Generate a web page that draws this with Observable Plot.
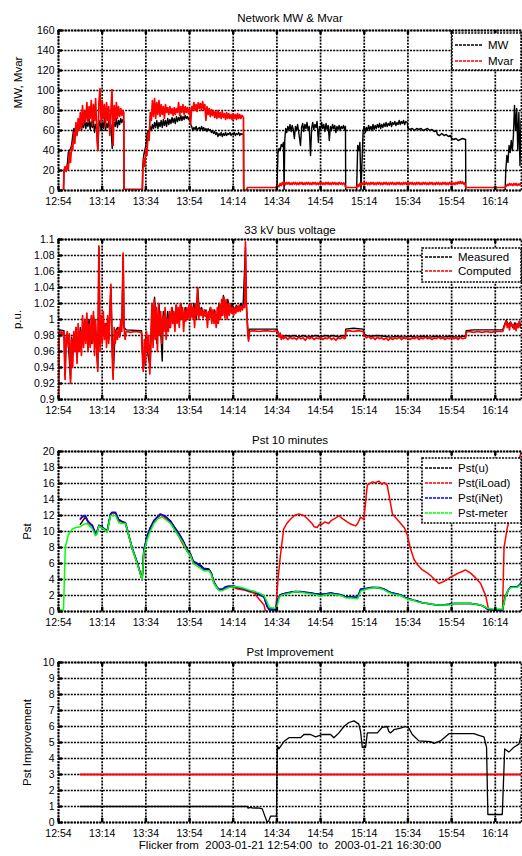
<!DOCTYPE html>
<html><head><meta charset="utf-8">
<script src="https://cdn.jsdelivr.net/npm/d3@7"></script>
<script src="https://cdn.jsdelivr.net/npm/@observablehq/plot@0.6"></script>
<style>
body{margin:0;background:#fff;}
#chart{width:522px;}
#chart svg{display:block;}
</style></head><body><div id="chart"></div>
<script>
// time in minutes after 12:54
const timeTicks = [0,20,40,60,80,100,120,140,160,180,200];
const timeLabels = ["12:54","13:14","13:34","13:54","14:14","14:34","14:54","15:14","15:34","15:54","16:14"];

const titles = ["Network MW & Mvar","33 kV bus voltage","Pst 10 minutes","Pst Improvement"];
const yLabels = ["MW, Mvar","p.u.","Pst","Pst Improvement"];
const caption = "Flicker from  2003-01-21 12:54:00  to  2003-01-21 16:30:00";

const mwTicks = [0,20,40,60,80,100,120,140,160];
const voltTicks = [0.9,0.92,0.94,0.96,0.98,1,1.02,1.04,1.06,1.08,1.1];
const pstTicks = [0,2,4,6,8,10,12,14,16,18,20];
const impTicks = [0,1,2,3,4,5,6,7,8,9,10];

const legend1 = ["MW","Mvar"];
const legend2 = ["Measured","Computed"];
const legend3 = ["Pst(u)","Pst(iLoad)","Pst(iNet)","Pst-meter"];

const mw = [[0,0],[2.3,0],[2.5,20],[3,22],[3.5,21],[4,25],[4.5,38],[5,40],[5.5,42],[6,45],[6.5,55],[7,62],[7.5,58],[8,66],[8.5,61],[9,68],[9.5,62],[10,70],[10.5,60],[11,67],[11.5,63],[12,71],[12.5,62],[13,68],[13.5,64],[14,72],[14.5,61],[15,69],[15.5,63],[16,70],[16.5,58],[17,66],[17.5,62],[18,40],[18.5,64],[19,70],[19.5,60],[20,68],[20.5,62],[21,72],[21.5,60],[22,67],[22.5,63],[23,70],[23.5,58],[24,66],[24.6,42],[25,62],[25.5,68],[26,64],[26.5,72],[27,63],[27.5,70],[28,66],[28.5,72],[29,68],[29.5,71],[29.9,69],[30,1],[38.4,1],[38.6,25],[39,35],[39.5,40],[40,45],[40.5,55],[41,60],[41.5,57],[42,64],[42.5,60],[43,66],[43.5,62],[44,68],[44.5,63],[45,70],[45.5,62],[46,68],[46.5,64],[47,70],[47.5,63],[48,71],[48.5,65],[49,70],[49.5,64],[50,72],[50.5,66],[51,71],[51.5,67],[52,73],[52.5,68],[53,72],[53.5,67],[54,74],[54.5,69],[55,73],[55.5,70],[56,75],[56.5,70],[57,74],[57.5,71],[58,75],[58.5,72],[59,74],[59.5,71],[60,73],[60.5,66],[61,64],[61.5,60],[62,63],[62.5,61],[63,64],[63.5,60],[64,62],[64.5,63],[65,60],[65.5,64],[66,61],[66.5,63],[67,60],[67.5,62],[68,59],[68.5,62],[69,60],[69.5,61],[70,58],[70.5,60],[71,57],[71.5,59],[72,56],[72.5,58],[73,54],[73.5,57],[74,55],[74.5,58],[75,54],[75.5,57],[76,55],[76.5,58],[77,55],[77.5,57],[78,56],[78.5,58],[79,55],[79.5,57],[80,56],[80.5,58],[81,55],[81.5,57],[82,56],[82.5,58],[83,55],[83.5,57],[84,56],[84.7,57],[84.8,0],[100,0],[100.2,15],[100.5,38],[101,42],[101.5,40],[102,46],[102.5,44],[103,48],[103.3,0],[103.6,50],[104,62],[104.5,58],[105,64],[105.5,60],[106,66],[106.5,59],[107,65],[107.5,61],[108,52],[108.5,64],[109,60],[109.5,66],[110,58],[110.8,45],[111.3,63],[111.8,67],[112.3,59],[112.8,66],[113.3,62],[113.8,68],[114.3,60],[114.8,64],[115.4,35],[115.9,62],[116.4,68],[116.9,61],[117.4,66],[117.9,63],[118.4,69],[119,48],[119.5,64],[120,60],[120.5,68],[121,62],[121.5,66],[122,59],[122.5,67],[123,61],[123.5,65],[124,50],[124.5,64],[125,60],[125.5,66],[126,62],[126.5,65],[127,58],[127.5,64],[128,61],[128.5,65],[129,60],[129.5,64],[130,62],[130.5,65],[131,61],[131.4,64],[131.5,0],[136.5,0],[136.7,18],[137,45],[137.5,40],[138,48],[138.5,0],[139,30],[139.5,60],[140,64],[140.5,58],[141,63],[141.5,60],[142,65],[142.5,61],[143,64],[143.5,60],[144,66],[144.5,61],[145,65],[145.5,62],[146,66],[146.5,63],[147,67],[147.5,62],[148,66],[148.5,63],[149,67],[149.5,64],[150,68],[150.5,64],[151,67],[151.5,65],[152,69],[152.5,64],[153,68],[153.5,66],[154,69],[154.5,65],[155,68],[155.5,66],[156,70],[156.5,66],[157,69],[157.5,67],[158,70],[158.5,66],[159,69],[159.7,68],[160,62],[161,61],[162,62],[163,60],[164,62],[165,61],[166,62],[167,60],[168,61],[169,62],[170,60],[171,61],[172,59],[173,60],[173.5,56],[174.5,55],[175.5,57],[176.5,55],[177.5,56],[178.5,54],[179.5,55],[180,52],[181,51],[182,52],[183,50],[184,51],[185,52],[186.4,51],[186.5,0],[204.5,0],[204.8,20],[205.3,35],[205.8,28],[206.3,45],[206.8,38],[207.3,50],[207.8,40],[208.3,55],[208.8,85],[209.3,60],[209.8,82],[210.3,40],[210.8,78],[211.3,25],[211.8,70],[212.3,60],[212.5,72]];

const mvar = [[0,0],[2.3,0],[2.5,20],[3,24],[3.5,19],[4,26],[4.5,21],[5,38],[5.5,28],[6,45],[6.5,40],[7,58],[7.5,47],[8,68],[8.5,55],[9,72],[9.5,60],[10,78],[10.5,62],[11,85],[11.5,66],[12,80],[12.5,70],[13,88],[13.5,68],[14,84],[14.5,72],[15,90],[15.5,65],[16,86],[16.5,70],[17,92],[17.5,60],[18,40],[18.5,88],[19,102],[19.5,68],[20,90],[20.5,72],[21,86],[21.5,64],[22,88],[22.5,70],[23,84],[23.5,55],[24,80],[24.5,101],[25,45],[25.5,85],[26,70],[26.5,88],[27,72],[27.5,84],[28,74],[28.5,82],[29,75],[29.5,80],[29.9,78],[30,1],[38.4,1],[38.6,20],[39,32],[39.5,24],[40,42],[40.5,35],[41,58],[41.5,50],[42,78],[42.5,70],[43,90],[43.5,74],[44,92],[44.5,72],[45,88],[45.5,76],[46,90],[46.5,74],[47,86],[47.5,76],[48,84],[48.5,72],[49,86],[49.5,78],[50,83],[50.5,76],[51,84],[51.5,77],[52,82],[52.5,75],[53,83],[53.5,76],[54,82],[54.5,78],[55,88],[55.5,75],[56,84],[56.5,78],[57,86],[57.5,76],[58,84],[58.5,78],[59,83],[59.5,77],[60,82],[60.5,66],[61,84],[61.5,80],[62,88],[62.5,80],[63,86],[63.5,79],[64,88],[64.5,82],[65,87],[65.5,80],[66,89],[66.5,81],[67,86],[67.5,70],[68,84],[68.5,76],[69,82],[69.5,74],[70,81],[70.5,75],[71,80],[71.5,73],[72,79],[72.5,72],[73,80],[73.5,73],[74,78],[74.5,72],[75,79],[75.5,73],[76,77],[76.5,71],[77,78],[77.5,72],[78,77],[78.5,72],[79,76],[79.5,71],[80,77],[80.5,72],[81,76],[81.5,71],[82,77],[82.5,72],[83,76],[83.5,72],[84,75],[84.7,73],[84.8,0],[86,0],[86.5,3],[100,3],[100.5,5],[101,4],[101.5,7],[102,5],[102.5,8],[103,6],[103.5,8],[104,6],[104.5,8],[105,6.5],[105.5,8],[106,6],[106.5,7.5],[107,6],[107.5,8],[108,6.5],[108.5,8],[109,6],[109.5,7.5],[110,6],[110.5,8],[111,6.5],[111.5,8],[112,6],[112.5,7.5],[113,6],[113.5,8],[114,6.5],[114.5,8],[115,6],[115.5,7.5],[116,6],[116.5,8],[117,6.5],[117.5,8],[118,6],[118.5,7.5],[119,6],[119.5,8],[120,6.5],[120.5,8],[121,6],[121.5,7.5],[122,6],[122.5,8],[123,6.5],[123.5,8],[124,6],[124.5,7.5],[125,6],[125.5,8],[126,6.5],[126.5,8],[127,6],[127.5,7.5],[128,6],[128.5,8],[129,6.5],[129.5,7.5],[130,6],[130.5,7.5],[131,6.5],[131.5,3],[136.5,3],[137,6],[137.5,4],[138,7],[138.5,5.5],[139,7.5],[139.5,6],[140,8],[140.5,6.5],[141,8],[141.5,6],[142,7.5],[142.5,6],[143,8],[143.5,6.5],[144,8],[144.5,6],[145,7.5],[145.5,6],[146,8],[146.5,6.5],[147,8],[147.5,6],[148,7.5],[148.5,6],[149,8],[149.5,6.5],[150,8],[150.5,6],[151,7.5],[151.5,6],[152,8],[152.5,6.5],[153,8],[153.5,6],[154,7.5],[154.5,6],[155,8],[155.5,6.5],[156,8],[156.5,6],[157,7.5],[157.5,6],[158,8],[158.5,6.5],[159,8],[159.5,6],[160,7.5],[160.5,6],[161,8],[161.5,6.5],[162,8],[162.5,6],[163,7.5],[163.5,6],[164,8],[164.5,6.5],[165,8],[165.5,6],[166,7.5],[166.5,6],[167,8],[167.5,6.5],[168,8],[168.5,6],[169,7.5],[169.5,6],[170,8],[170.5,6.5],[171,8],[171.5,6],[172,7.5],[172.5,6],[173,8],[173.5,6.5],[174,8],[174.5,6],[175,7.5],[175.5,6],[176,8],[176.5,6.5],[177,8],[177.5,6],[178,7.5],[178.5,6],[179,8],[179.5,6.5],[180,8],[180.5,6],[181,7.5],[181.5,6],[182,8],[182.5,6.5],[183,8.5],[183.5,7],[184,9],[184.5,7],[185,8.5],[185.5,6.5],[186,7.5],[186.5,3],[195,3],[204.5,3],[205,4.5],[205.5,6],[206,5],[206.5,7],[207,5.5],[207.5,6.5],[208,5],[208.5,7],[209,5.5],[209.5,7],[210,5],[210.5,6.5],[211,5.5],[211.5,7],[212,5.5],[212.5,6.5]];

const voltMeasured = [[0,0.9],[0.3,0.978],[0.6,0.987],[2.5,0.986],[3,0.93],[3.5,0.978],[4.5,0.97],[5.5,0.925],[6,0.978],[7,0.965],[8,0.99],[9,0.96],[10,0.99],[11,0.97],[12,1.0],[13,0.975],[14,1.0],[15,0.97],[16,1.005],[17,0.975],[18,0.94],[18.5,1.09],[19,0.97],[20,1.0],[21,0.98],[22,0.995],[23,0.975],[24,1.04],[25,0.93],[26,0.985],[27,0.99],[28,0.98],[29,0.995],[29.6,1.08],[30,0.99],[31,0.987],[38,0.986],[38.5,0.96],[39,0.94],[40,0.98],[41,0.955],[42,0.94],[42.8,1.02],[43.5,0.975],[44,1.028],[45,0.97],[46,1.02],[47,0.975],[47.5,0.948],[48,1.01],[49,0.985],[50,1.01],[51,0.99],[52,1.015],[53,0.995],[54,1.018],[55,0.998],[56,1.02],[57,1.0],[58,1.015],[59,1.005],[60,1.018],[61,1.005],[62,1.02],[63,1.0],[63.7,1.04],[64.5,1.01],[65.5,1.015],[66.5,1.005],[67.5,1.012],[68.5,1.0],[69.5,1.015],[70.5,1.0],[71.5,1.012],[72.5,0.995],[73.5,1.02],[74.5,1.005],[75.5,1.03],[76.5,1.008],[77.5,1.025],[78.5,1.01],[79.5,1.02],[80.5,1.01],[81.5,1.018],[82.5,1.012],[83.5,1.02],[84.5,1.015],[85.6,1.09],[86,1.02],[87,0.975],[87.5,0.988],[100,0.988],[101,0.98],[102,0.978],[103,0.979],[104,0.98],[106,0.979],[108,0.98],[110,0.978],[112,0.98],[114,0.978],[116,0.979],[118,0.98],[120,0.978],[122,0.98],[124,0.979],[126,0.98],[128,0.978],[130,0.98],[131.4,0.979],[131.5,0.988],[135,0.989],[139.5,0.988],[140,0.982],[141,0.98],[143,0.979],[146,0.98],[149,0.979],[152,0.978],[155,0.979],[158,0.978],[161,0.979],[164,0.978],[167,0.979],[170,0.978],[173,0.979],[176,0.978],[179,0.979],[182,0.978],[185,0.979],[186.5,0.979],[186.7,0.986],[190,0.987],[195,0.987],[200,0.987],[203.4,0.987],[204,0.992],[205,0.999],[206,0.993],[207,0.997],[208,0.99],[209,0.996],[210,0.99],[211,0.997],[212,0.99],[212.5,0.996]];

const voltComputed = [[0,0.9],[0.3,0.975],[0.6,0.985],[1,0.982],[1.5,0.985],[2,0.98],[2.5,0.984],[3,0.925],[3.5,0.975],[4,0.985],[4.5,0.965],[5,0.982],[5.5,0.92],[6,0.975],[6.5,0.94],[7,0.985],[7.5,0.96],[8,0.99],[8.5,0.945],[9,0.995],[9.5,0.96],[10,0.985],[10.5,0.955],[11,1.005],[11.5,0.965],[12,1.0],[12.5,0.97],[13,1.008],[13.5,0.96],[14,0.995],[14.5,0.965],[15,1.005],[15.5,0.97],[16,1.01],[16.5,0.955],[17,1.0],[17.5,0.965],[18,0.935],[18.5,1.092],[19,0.96],[19.5,1.005],[20,0.97],[20.5,1.01],[21,0.975],[21.5,0.995],[22,0.965],[22.5,1.005],[23,0.97],[23.5,1.012],[24,1.044],[24.5,0.96],[25,0.925],[25.5,0.99],[26,0.97],[26.5,0.985],[27,0.975],[27.5,0.99],[28,0.978],[28.5,1.0],[29,0.985],[29.6,1.083],[30,0.99],[30.5,0.975],[31,0.985],[33,0.984],[35,0.985],[38,0.984],[38.3,0.96],[38.8,0.935],[39.3,0.975],[39.8,0.945],[40.3,0.985],[40.8,0.96],[41.3,0.98],[41.8,0.932],[42.3,0.975],[42.8,1.02],[43.3,0.965],[43.8,1.025],[44.3,0.975],[44.8,1.015],[45.3,0.96],[45.8,1.02],[46.3,0.98],[46.8,1.01],[47.3,0.97],[47.8,1.005],[48.3,0.985],[48.8,1.015],[49.3,0.975],[49.8,1.0],[50.3,0.985],[50.8,1.01],[51.3,0.99],[51.8,1.015],[52.3,0.995],[52.8,1.01],[53.3,0.985],[53.8,1.018],[54.3,0.995],[54.8,1.015],[55.3,0.99],[55.8,1.02],[56.3,1.0],[56.8,1.015],[57.3,0.985],[57.8,1.012],[58.3,0.998],[58.8,1.015],[59.3,1.0],[59.8,1.018],[60.3,1.0],[60.8,1.02],[61.3,1.002],[61.8,1.015],[62.3,0.99],[62.8,1.02],[63.3,1.005],[63.7,1.04],[64.2,1.0],[64.7,1.015],[65.2,1.005],[65.7,1.012],[66.2,1.002],[66.7,1.012],[67.2,1.004],[67.7,1.01],[68.2,0.99],[68.7,1.01],[69.2,1.002],[69.7,1.015],[70.2,0.995],[70.7,1.012],[71.2,0.995],[71.7,1.01],[72.2,0.99],[72.7,1.015],[73.2,0.995],[73.7,1.02],[74.2,1.0],[74.7,1.025],[75.2,1.005],[75.7,1.028],[76.2,1.002],[76.7,1.025],[77.2,1.0],[77.7,1.02],[78.2,1.005],[78.7,1.02],[79.2,1.008],[79.7,1.015],[80.2,1.005],[80.7,1.015],[81.2,1.008],[81.7,1.016],[82.2,1.01],[82.7,1.018],[83.2,1.01],[83.7,1.016],[84.2,1.012],[84.7,1.018],[85.2,1.015],[85.6,1.097],[86,1.02],[86.5,0.99],[87,0.973],[87.5,0.985],[89,0.986],[92,0.985],[95,0.986],[98,0.985],[100,0.986],[100.5,0.984],[101,0.978],[101.5,0.983],[102,0.975],[102.5,0.98],[103,0.976],[104,0.978],[105,0.975],[106,0.978],[107,0.976],[108,0.977],[109,0.975],[110,0.978],[111,0.976],[112,0.977],[113,0.974],[114,0.978],[115,0.976],[116,0.978],[117,0.975],[118,0.977],[119,0.976],[120,0.978],[121,0.975],[122,0.977],[123,0.976],[124,0.978],[125,0.975],[126,0.977],[127,0.974],[128,0.977],[129,0.976],[130,0.978],[131,0.976],[131.4,0.977],[131.5,0.985],[133,0.986],[135,0.985],[137,0.986],[139.5,0.985],[140,0.98],[141,0.977],[142,0.979],[143,0.976],[144,0.978],[145,0.975],[146,0.978],[147,0.976],[148,0.977],[149,0.975],[150,0.977],[151,0.974],[152,0.977],[153,0.975],[154,0.977],[155,0.976],[156,0.978],[157,0.975],[158,0.977],[159,0.976],[160,0.977],[161,0.975],[162,0.977],[163,0.976],[164,0.978],[165,0.975],[166,0.977],[167,0.976],[168,0.978],[169,0.976],[170,0.977],[171,0.975],[172,0.977],[173,0.976],[174,0.978],[175,0.976],[176,0.977],[177,0.975],[178,0.977],[179,0.976],[180,0.978],[181,0.976],[182,0.977],[183,0.975],[184,0.978],[185,0.976],[186.4,0.977],[186.6,0.984],[188,0.985],[190,0.984],[192,0.985],[194,0.984],[196,0.985],[198,0.984],[200,0.985],[203.4,0.985],[204,0.99],[205,0.998],[205.5,0.99],[206,0.995],[206.5,0.987],[207,0.996],[207.5,0.992],[208,0.994],[208.5,0.988],[209,0.993],[209.5,0.986],[210,0.995],[210.5,0.99],[211,0.998],[211.5,0.99],[212,0.993],[212.5,0.99]];

const pstU = [[10,10.9],[11,11.3],[12.3,11.8],[13.5,11.2],[14.6,10.9],[15.5,10.7],[16.9,9.7],[17.5,9.8],[18.5,10.7],[19.5,10.6],[20.8,10.3],[22.3,10.0],[23.8,12.1],[24.5,12.3],[26.1,12.3],[27.6,11.4],[29,11.2],[30.7,11.0],[33.7,7.9],[36,6.1],[38.3,4.0],[39.1,7.7],[40.6,9.3],[42,10.4],[43.7,11.3],[45.5,11.8],[46.6,12.1],[49,11.8],[51.3,11.3],[53,10.6],[55.1,9.8],[57,8.9],[58.9,7.8],[60.5,7.2],[61.7,6.3],[63,6.1],[65,5.8],[66.5,5.4],[68.9,5.3],[70,4.8],[71.2,3.6],[72.5,3.0],[73.5,2.7],[75,2.7],[76.5,3.0],[78,3.1],[80.4,3.1],[82,3.0],[84.9,2.8],[87,2.6],[89.5,2.4],[92,2.1],[94.1,1.8],[95.5,0.7],[96.5,0.3],[99.5,0.3],[100.3,1.5],[101.5,2.0],[102.6,2.2],[104.5,2.3],[106.4,2.4],[108.5,2.5],[111,2.4],[113,2.4],[115.6,2.3],[118,2.2],[120.1,2.1],[122,2.2],[124.7,2.3],[127,2.2],[129.3,2.1],[131.6,1.8],[134,1.8],[136.9,1.7],[138.3,2.7],[141.5,2.9],[143,3.0],[145.3,3.0],[147,2.9],[149.1,2.8],[151,2.5],[152.9,2.3],[155,2.2],[156.7,2.0],[158.5,1.8],[160.5,1.6],[162.5,1.4],[164.3,1.3],[166.5,1.1],[168.9,1.0],[171,0.9],[173.5,0.8],[176,0.8],[178.8,0.9],[181.1,1.0],[184,1.0],[186.5,1.0],[188.8,1.0],[191,0.9],[193.3,0.8],[195,0.6],[196.4,0.3],[199,0.2],[201,0.2],[203.3,0.2],[204.5,1.8],[206,2.7],[207.1,3.1],[208.5,3.1],[210.1,3.1],[211.3,3.4],[212.5,3.8]];

const pstILoad = [[10,11.5],[11,11.8],[12.3,11.9],[13.5,11.2],[14.6,10.9],[15.5,10.7],[16.9,9.7],[17.5,9.8],[18.5,10.7],[19.5,10.6],[20.8,10.3],[22.3,10.0],[23.8,12.1],[24.5,12.3],[26.1,12.3],[27.6,11.4],[29,11.2],[30.7,11.0],[33.7,7.9],[36,6.1],[38.3,4.0],[39.1,7.7],[40.6,9.3],[42,10.4],[43.7,11.3],[45.5,11.8],[46.6,12.1],[49,11.7],[51.3,11.1],[53,10.3],[55.1,9.4],[57,8.4],[58.9,7.5],[60.5,7.0],[61.7,6.2],[63,6.0],[65,5.6],[66.5,5.3],[68.9,5.2],[70,4.7],[71.2,3.6],[72.5,3.0],[73.5,2.7],[75,2.7],[76.5,3.0],[78,3.1],[80.4,3.0],[82,2.8],[84.9,2.7],[87,2.5],[89.5,2.3],[92,1.5],[94.1,0.8],[94.8,0],[99.4,0],[100.5,4],[101.6,7],[103.1,10.3],[104.5,11],[106.1,11.5],[108,12],[110,12.2],[112.3,12],[114,11.6],[116.1,11],[117,10.6],[118.4,10.5],[119.5,10.9],[120.7,10.9],[122,11.2],[123.7,11],[125,11.4],[127,11.7],[128.5,12],[130,11.6],[132.2,11.2],[134,10.9],[136,10.7],[137,11],[138.3,11.8],[139.8,11.5],[141.4,15.8],[143.7,16.2],[145,16.1],[146.7,16.3],[148,15.9],[149.1,16.1],[150.5,15.8],[152.9,12.2],[154.5,11.7],[156.7,11],[158.5,10.4],[159.8,9.5],[161,8],[162.8,6.5],[164.5,5.8],[166.6,5.2],[168.5,4.9],[170.4,4.5],[172.5,3.9],[174.2,3.5],[176,3.7],[178,4.0],[179.5,4.3],[181.1,4.5],[183,4.8],[184.9,5.0],[186.4,5.2],[187.5,5.0],[188.7,4.8],[191,4.2],[193.3,3.5],[194.5,2.7],[195.6,2.0],[197.1,0],[203.3,0],[204,8],[205.5,10.5],[207.1,12],[208.3,14],[209.4,17],[210.8,19],[212,20]];

const pstINet = [[10,11.6],[11,11.9],[12.3,12],[13.5,11.3],[14.6,11],[15.5,10.8],[16.9,9.8],[17.5,9.9],[18.5,10.8],[19.5,10.7],[20.8,10.4],[22.3,10.1],[23.8,12.2],[24.5,12.4],[26.1,12.4],[27.6,11.5],[29,11.3],[30.7,11.1],[33.7,8],[36,6.2],[38.3,4],[39.1,7.8],[40.6,9.4],[42,10.5],[43.7,11.4],[45.5,11.9],[46.6,12.2],[49,11.9],[51.3,11.3],[53,10.5],[55.1,9.7],[57,8.8],[58.9,7.7],[60.5,7.1],[61.7,6.2],[63,6],[65,5.7],[66.5,5.3],[68.9,5.2],[70,4.8],[71.2,3.7],[72.5,3.1],[73.5,2.8],[75,2.8],[76.5,3.1],[78,3.2],[80.4,3.2],[82,3.0],[84.9,2.8],[87,2.6],[89.5,2.5],[92,2.1],[94.1,1.8],[95.5,0.6],[96.5,0.2],[99.5,0.2],[100.3,1.5],[101.5,2.1],[102.6,2.2],[104.5,2.3],[106.4,2.4],[108.5,2.5],[111,2.5],[113,2.4],[115.6,2.3],[118,2.2],[120.1,2.2],[122,2.2],[124.7,2.3],[127,2.2],[129.3,2.1],[131.6,1.8],[134,1.8],[136.9,1.8],[138.3,2.8],[141.5,2.9],[143,3.0],[145.3,3.0],[147,3.0],[149.1,2.8],[151,2.5],[152.9,2.3],[155,2.2],[156.7,2.1],[158.5,1.8],[160.5,1.6],[162.5,1.4],[164.3,1.3],[166.5,1.1],[168.9,1.0],[171,0.9],[173.5,0.8],[176,0.8],[178.8,0.9],[181.1,1.0],[184,1.0],[186.5,1.0],[188.8,1.0],[191,0.9],[193.3,0.8],[195,0.6],[196.4,0.3],[199,0.2],[201,0.2],[203.3,0.2],[204.5,1.8],[206,2.7],[207.1,3.1],[208.5,3.1],[210.1,3.1],[211.3,3.4],[212.5,3.8]];

const pstMeter = [[0,0.2],[2.3,0.2],[3.1,8],[4.5,9.6],[6.3,10.3],[8,10.5],[10,10.6],[11.5,10.9],[13.1,11],[14.5,10.6],[15.4,10.4],[16.9,9.5],[17.5,9.6],[18.5,10.7],[19.5,10.5],[20.8,10.3],[22.3,9.9],[23.8,12],[26.1,12],[27.6,11.1],[29,11],[30.7,11],[33.7,7.9],[36,6],[38.3,4],[39.1,7.4],[40.6,9],[42,10],[43.7,11],[45.5,11.6],[47.4,11.8],[49,11.5],[51.3,11],[53,10.3],[55.1,9.4],[57,8.6],[58.9,7.5],[60.5,7],[61.7,6],[63,5.8],[65,5.4],[66.5,5.1],[68.9,5.1],[70,4.6],[71.2,3.5],[72.5,3],[73.5,2.6],[75,2.6],[76.5,2.8],[78,3],[80.4,3.1],[82,3.1],[84.9,2.9],[87,2.7],[89.5,2.5],[92,2.3],[94.1,2.0],[95.5,1.2],[96.5,0.5],[98.8,0.4],[100,0.5],[101.1,1.8],[102.6,2.1],[104.5,2.2],[106.4,2.3],[108.5,2.5],[111,2.4],[113,2.3],[115.6,2.2],[118,2.1],[120.1,1.9],[122,2.1],[124.7,2.2],[127,2.1],[129.3,2.0],[131.6,1.7],[134,1.7],[136.9,1.6],[138.5,2.6],[141.5,2.8],[143,2.9],[145.3,3.0],[147,2.9],[149.1,2.7],[151,2.4],[152.9,2.2],[155,2.1],[156.7,2.0],[158.5,1.7],[160.5,1.5],[162.5,1.4],[164.3,1.2],[166.5,1.1],[168.9,1.0],[171,0.9],[173.5,0.8],[176,0.8],[178.8,0.8],[181.1,1.0],[184,1.0],[186.5,1.0],[188.8,1.0],[191,0.9],[193.3,0.8],[195,0.6],[196.4,0.4],[199,0.3],[201,0.3],[203.3,0.3],[204.8,2.0],[206,2.7],[207.1,3.0],[208.5,3.0],[210.1,3.0],[211.3,3.3],[212.5,3.6]];

const pstImprovement = [[10,1],[86.4,1],[86.8,0.9],[88,0.95],[89,0.9],[90.5,0.92],[92,0.9],[93.3,0.85],[94.5,0.4],[95.6,0],[96.3,0.1],[97.1,0.4],[99.8,0.4],[100.2,4.8],[100.9,4.6],[102.4,4.9],[103.5,5.1],[105.5,5.3],[110.8,5.3],[112.4,5.5],[115.4,5.5],[117.7,5.35],[120.8,5.5],[124.6,5.5],[126.1,5.3],[128.4,5.6],[130.7,6.0],[133,6.25],[135.3,6.35],[137.5,6.15],[138.3,5.7],[139.1,4.7],[140.6,4.7],[141.4,5.6],[146,5.6],[148.2,5.95],[150.5,6.0],[151.2,5.7],[152,5.6],[153.6,5.8],[156.6,5.9],[158.9,6.0],[160.4,5.9],[162,5.5],[165,5.1],[170.4,5.05],[171.9,4.95],[174.9,5.1],[178.8,5.55],[181,5.55],[190.2,5.55],[192.5,5.45],[194.8,5.35],[196,4.7],[196.6,0.5],[203.2,0.5],[204.3,4.6],[206.2,4.4],[208.5,4.7],[210.8,4.9],[212.4,5.7]];
const threshold = [[10,3],[212.5,3]];

const FONT = "'Liberation Sans', Arial, Helvetica, sans-serif";
const X = d => d[0], Y = d => d[1];
const gridStyle = {stroke:"black", strokeOpacity:1, strokeWidth:1.7, strokeDasharray:"2,1.2"};

function panel(o) {
  const plotH = o.height - o.mt - o.mb;
  const plotW = 522 - 58 - 1;
  const svg = Plot.plot({
    width: 522, height: o.height,
    marginLeft: 58, marginRight: 1, marginTop: o.mt, marginBottom: o.mb,
    style: {fontFamily: FONT, fontSize: "10.5px", background: "white", color: "black", overflow: "visible"},
    x: {domain: [0, 212]},
    y: {domain: o.yDomain},
    marks: [
      Plot.gridX(timeTicks, gridStyle),
      Plot.gridY(o.yTicks, gridStyle),
      ...o.marks,
      Plot.frame({stroke: "black", strokeWidth: 1.8, strokeDasharray: "2,1.2"}),
      Plot.tickX(timeTicks, {x: d => d, insetTop: plotH - 4, stroke: "black", strokeWidth: 2.4}),
      Plot.tickX(timeTicks, {x: d => d, insetBottom: plotH - 4, stroke: "black", strokeWidth: 2.4}),
      Plot.tickY(o.yTicks, {y: d => d, insetRight: plotW - 4, stroke: "black", strokeWidth: 2.4}),
      Plot.axisX(timeTicks, {tickSize: 0, tickPadding: 7, label: null, fontSize: 10.5, tickFormat: (d) => timeLabels[timeTicks.indexOf(d)]}),
      Plot.axisY(o.yTicks, {tickSize: 0, tickPadding: 4, label: null, fontSize: 10.5, tickFormat: o.yFmt || (d => String(d))}),
      Plot.text([o.title], {frameAnchor: "top", dy: o.titleDy, fontSize: 11.5}),
      Plot.text([o.ylabel], {frameAnchor: "left", textAnchor: "middle", dx: o.ylabelDx, dy: o.ylabelDy || 0, rotate: -90, fontSize: 11.5}),
      ...(o.caption ? [Plot.text([o.caption], {frameAnchor: "bottom", dy: 26, fontSize: 11.5})] : [])
    ]
  });
  if (o.legend) {
    const L = o.legend;
    const g = d3.select(svg).append("g").attr("font-family", FONT).attr("font-size", "11.5px").attr("text-anchor", "start");
    g.append("rect").attr("x", L.x0).attr("y", L.y0).attr("width", L.x1 - L.x0).attr("height", L.y1 - L.y0)
      .attr("fill", "white").attr("stroke", "black").attr("stroke-width", 1.6).attr("stroke-dasharray", "2,1.2");
    L.items.forEach((it, i) => {
      const y = L.ys[i];
      g.append("line").attr("x1", L.lx0).attr("x2", L.lx1).attr("y1", y).attr("y2", y)
        .attr("stroke", it.color).attr("stroke-width", 1.6).attr("stroke-dasharray", "3,1");
      g.append("text").attr("x", L.tx).attr("y", y).attr("dy", "0.35em").attr("fill", "black")
        .attr("text-anchor", "start").text(it.label);
    });
  }
  document.getElementById("chart").appendChild(svg);
}

const line = (data, color, w) => Plot.line(data, {x: X, y: Y, stroke: color, strokeWidth: w, clip: true});

panel({height: 210, mt: 30, mb: 20, yDomain: [0, 160], yTicks: mwTicks,
  title: titles[0], titleDy: -17, ylabel: yLabels[0], ylabelDx: -40, ylabelDy: -28,
  marks: [line(mw, "black", 1.4), line(mvar, "#ff0000", 1.7)],
  legend: {x0: 452, x1: 521, y0: 33, y1: 70, lx0: 455, lx1: 482, tx: 488, ys: [45, 61],
    items: [{label: legend1[0], color: "black"}, {label: legend1[1], color: "#ff0000"}]}
});

panel({height: 210, mt: 29, mb: 21, yDomain: [0.9, 1.1], yTicks: voltTicks,
  title: titles[1], titleDy: -14, ylabel: yLabels[1], ylabelDx: -41,
  marks: [line(voltMeasured, "black", 1.4), line(voltComputed, "#ff0000", 1.7)],
  legend: {x0: 422, x1: 521, y0: 38, y1: 72, lx0: 425, lx1: 452, tx: 458, ys: [47, 61],
    items: [{label: legend2[0], color: "black"}, {label: legend2[1], color: "#ff0000"}]}
});

panel({height: 215, mt: 31, mb: 24, yDomain: [0, 20], yTicks: pstTicks,
  title: titles[2], titleDy: -16, ylabel: yLabels[2], ylabelDx: -31,
  marks: [line(pstU, "black", 1.5), line(pstILoad, "#ff0000", 1.5), line(pstINet, "#0000ff", 1.5), line(pstMeter, "#00ff00", 1.5)],
  legend: {x0: 422, x1: 521, y0: 38, y1: 103, lx0: 425, lx1: 452, tx: 458, ys: [48, 63, 78, 93],
    items: [{label: legend3[0], color: "black"}, {label: legend3[1], color: "#ff0000"}, {label: legend3[2], color: "#0000ff"}, {label: legend3[3], color: "#00ff00"}]}
});

panel({height: 221, mt: 27, mb: 34, yDomain: [0, 10], yTicks: impTicks,
  title: titles[3], titleDy: -15, ylabel: yLabels[3], ylabelDx: -31,
  marks: [line(threshold, "#ff0000", 2), line(pstImprovement, "black", 1.3)],
  caption: caption
});
</script></body></html>
